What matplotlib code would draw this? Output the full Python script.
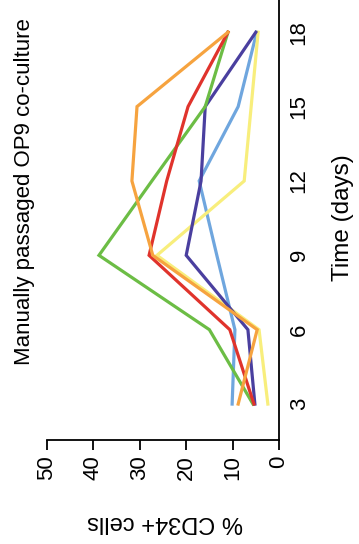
import matplotlib
matplotlib.use("Agg")
import matplotlib.pyplot as plt

plt.rcParams["font.family"] = ["Liberation Sans", "DejaVu Sans"]

days = [3, 6, 9, 12, 15, 18]
light_blue = [10.1, 9.5, 13.4, 17.2, 8.8, 4.8]
yellow = [2.4, 4.3, 26.3, 7.5, 6.0, 4.5]
purple = [5.2, 6.7, 20.0, 16.8, 15.9, 5.0]
green = [5.6, 15.0, 38.8, 27.4, 15.9, 11.0]
red = [5.4, 10.6, 28.0, 24.2, 19.6, 11.0]
orange = [8.8, 4.7, 27.2, 31.7, 30.6, 11.0]

value_ticks = [0, 10, 20, 30, 40, 50]
day_ticks = [3, 6, 9, 12, 15, 18]

colors = ["#6fa6de", "#f8ee7c", "#4a3f9f", "#6cbd45", "#e0332c", "#f6a33f"]
values = [light_blue, yellow, purple, green, red, orange]

fig = plt.figure(figsize=(3.59, 5.44), dpi=100)
# the figure is laid out turned a quarter-turn: % CD34+ runs along x, time along y
ax = fig.add_axes([47 / 359, 104 / 544, 232 / 359, 440 / 544])

for vals, c in zip(values, colors):
    ax.plot(vals, days, color=c, lw=2.3, solid_joinstyle="miter")

ax.set_xlim(50, 0)
ax.set_ylim(1.55, 19.3)

ax.spines["top"].set_visible(False)
ax.spines["left"].set_visible(False)
ax.spines["right"].set_linewidth(1.3)
ax.spines["bottom"].set_linewidth(1.3)

ax.set_xticks(value_ticks)
ax.set_xticklabels([str(v) for v in value_ticks], rotation=90, fontsize=16,
                   family=["Liberation Sans"])
ax.tick_params(axis="x", direction="out", length=7, width=1.3, pad=4)

ax.yaxis.tick_right()
ax.set_yticks(day_ticks)
ax.set_yticklabels([str(d) for d in day_ticks], rotation=90, va="center", fontsize=16,
                   family=["Liberation Sans"])
ax.tick_params(axis="y", length=0, pad=7)

fig.text(25 / 359, 1 - 192 / 544, "Manually passaged OP9 co-culture",
         rotation=90, ha="center", va="center", fontsize=16)
fig.text(343 / 359, 1 - 218 / 544, "Time (days)",
         rotation=90, ha="center", va="center", fontsize=17.5)
fig.text(165 / 359, 1 - 522 / 544, "% CD34+ cells",
         rotation=180, ha="center", va="center", fontsize=17)

fig.savefig("out.png", dpi=100)
